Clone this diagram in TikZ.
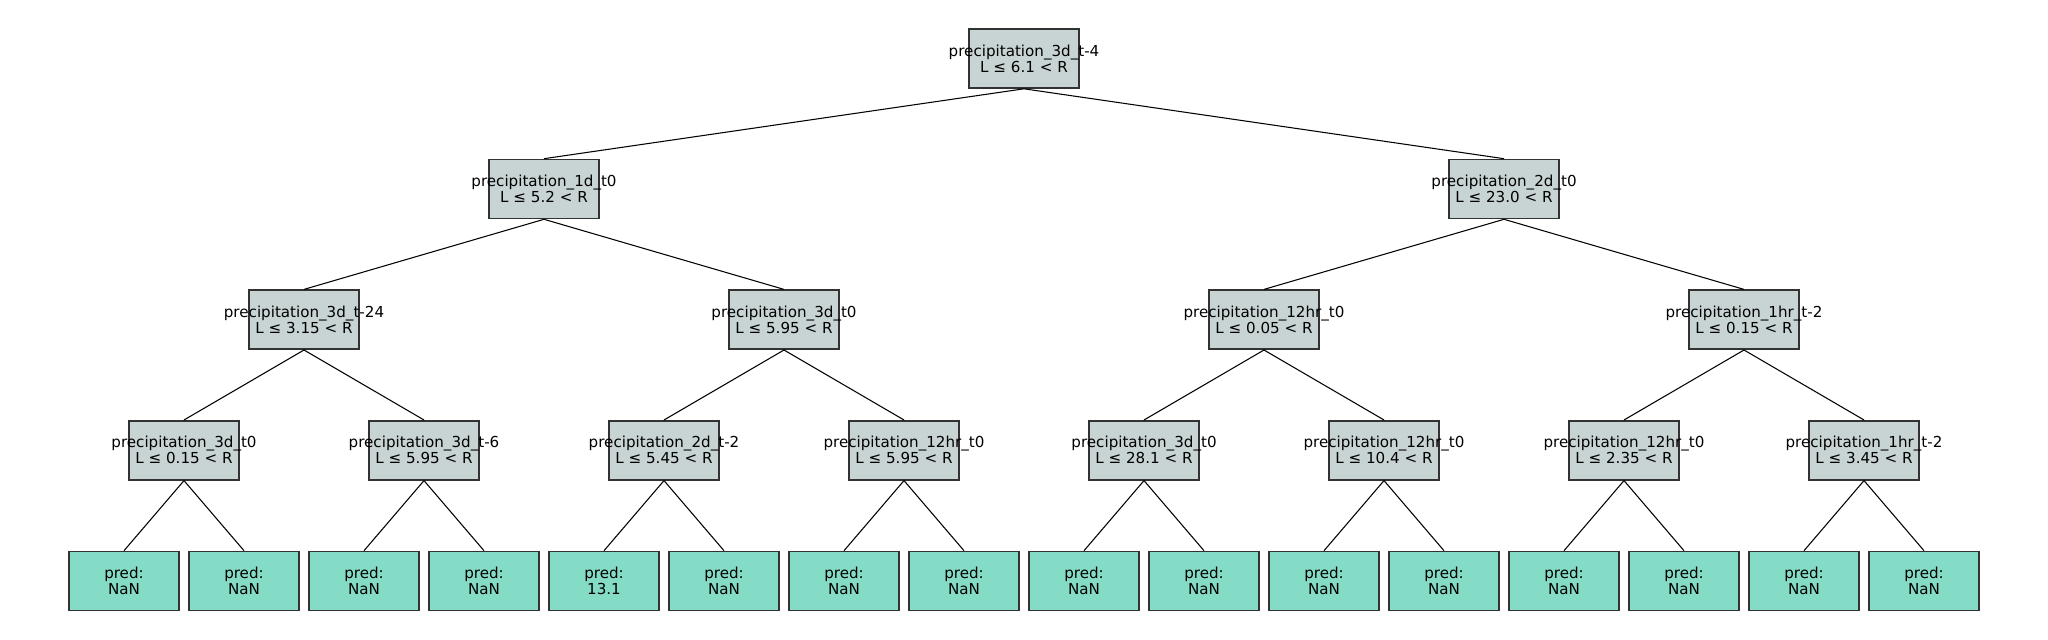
\documentclass[tikz,border=0pt]{standalone}
\usepackage{fontspec}
\setmainfont{DejaVu Sans}
\usepackage{tikz}
\usepackage{color}
\definecolor{splitfill}{RGB}{200,211,212}
\definecolor{leaffill}{RGB}{133,220,198}
\definecolor{boxedge}{RGB}{50,50,50}
\newcommand{\twolines}[2]{\makebox[0pt]{#1}\\\makebox[0pt]{#2}}
\tikzset{
	split/.style={draw=boxedge, fill=splitfill, line width=0.45pt, minimum width=1.1cm, minimum height=0.59cm, inner sep=0pt, align=center, font=\fontsize{4.3pt}{4.55pt}\selectfont},
	leaf/.style={split, fill=leaffill},
	branch/.style={line width=0.3pt, black}
}

\begin{document}
\begin{tikzpicture}[x=0.01cm, y=-0.01cm]
					\useasboundingbox (0, 0) rectangle (2048, 640);
					\node[split] (n0) at (1024, 58.5) {\twolines{precipitation\_3d\_t-4}{L ≤ 6.1 < R}};
					\node[split] (n1) at (544, 189) {\twolines{precipitation\_1d\_t0}{L ≤ 5.2 < R}};
					\node[split] (n2) at (1504, 189) {\twolines{precipitation\_2d\_t0}{L ≤ 23.0 < R}};
					\node[split] (n3) at (304, 319.7) {\twolines{precipitation\_3d\_t-24}{L ≤ 3.15 < R}};
					\node[split] (n4) at (784, 319.7) {\twolines{precipitation\_3d\_t0}{L ≤ 5.95 < R}};
					\node[split] (n5) at (1264, 319.7) {\twolines{precipitation\_12hr\_t0}{L ≤ 0.05 < R}};
					\node[split] (n6) at (1744, 319.7) {\twolines{precipitation\_1hr\_t-2}{L ≤ 0.15 < R}};
					\node[split] (n7) at (184, 450.3) {\twolines{precipitation\_3d\_t0}{L ≤ 0.15 < R}};
					\node[split] (n8) at (424, 450.3) {\twolines{precipitation\_3d\_t-6}{L ≤ 5.95 < R}};
					\node[split] (n9) at (664, 450.3) {\twolines{precipitation\_2d\_t-2}{L ≤ 5.45 < R}};
					\node[split] (n10) at (904, 450.3) {\twolines{precipitation\_12hr\_t0}{L ≤ 5.95 < R}};
					\node[split] (n11) at (1144, 450.3) {\twolines{precipitation\_3d\_t0}{L ≤ 28.1 < R}};
					\node[split] (n12) at (1384, 450.3) {\twolines{precipitation\_12hr\_t0}{L ≤ 10.4 < R}};
					\node[split] (n13) at (1624, 450.3) {\twolines{precipitation\_12hr\_t0}{L ≤ 2.35 < R}};
					\node[split] (n14) at (1864, 450.3) {\twolines{precipitation\_1hr\_t-2}{L ≤ 3.45 < R}};
					\node[leaf] (p1) at (124, 581) {\twolines{pred:}{NaN}};
					\node[leaf] (p2) at (244, 581) {\twolines{pred:}{NaN}};
					\node[leaf] (p3) at (364, 581) {\twolines{pred:}{NaN}};
					\node[leaf] (p4) at (484, 581) {\twolines{pred:}{NaN}};
					\node[leaf] (p5) at (604, 581) {\twolines{pred:}{13.1}};
					\node[leaf] (p6) at (724, 581) {\twolines{pred:}{NaN}};
					\node[leaf] (p7) at (844, 581) {\twolines{pred:}{NaN}};
					\node[leaf] (p8) at (964, 581) {\twolines{pred:}{NaN}};
					\node[leaf] (p9) at (1084, 581) {\twolines{pred:}{NaN}};
					\node[leaf] (p10) at (1204, 581) {\twolines{pred:}{NaN}};
					\node[leaf] (p11) at (1324, 581) {\twolines{pred:}{NaN}};
					\node[leaf] (p12) at (1444, 581) {\twolines{pred:}{NaN}};
					\node[leaf] (p13) at (1564, 581) {\twolines{pred:}{NaN}};
					\node[leaf] (p14) at (1684, 581) {\twolines{pred:}{NaN}};
					\node[leaf] (p15) at (1804, 581) {\twolines{pred:}{NaN}};
					\node[leaf] (p16) at (1924, 581) {\twolines{pred:}{NaN}};
					\draw[branch] (n0.south) -- (n1.north);
					\draw[branch] (n0.south) -- (n2.north);
					\draw[branch] (n1.south) -- (n3.north);
					\draw[branch] (n1.south) -- (n4.north);
					\draw[branch] (n2.south) -- (n5.north);
					\draw[branch] (n2.south) -- (n6.north);
					\draw[branch] (n3.south) -- (n7.north);
					\draw[branch] (n3.south) -- (n8.north);
					\draw[branch] (n4.south) -- (n9.north);
					\draw[branch] (n4.south) -- (n10.north);
					\draw[branch] (n5.south) -- (n11.north);
					\draw[branch] (n5.south) -- (n12.north);
					\draw[branch] (n6.south) -- (n13.north);
					\draw[branch] (n6.south) -- (n14.north);
					\draw[branch] (n7.south) -- (p1.north);
					\draw[branch] (n7.south) -- (p2.north);
					\draw[branch] (n8.south) -- (p3.north);
					\draw[branch] (n8.south) -- (p4.north);
					\draw[branch] (n9.south) -- (p5.north);
					\draw[branch] (n9.south) -- (p6.north);
					\draw[branch] (n10.south) -- (p7.north);
					\draw[branch] (n10.south) -- (p8.north);
					\draw[branch] (n11.south) -- (p9.north);
					\draw[branch] (n11.south) -- (p10.north);
					\draw[branch] (n12.south) -- (p11.north);
					\draw[branch] (n12.south) -- (p12.north);
					\draw[branch] (n13.south) -- (p13.north);
					\draw[branch] (n13.south) -- (p14.north);
					\draw[branch] (n14.south) -- (p15.north);
					\draw[branch] (n14.south) -- (p16.north);
					
				\end{tikzpicture}
\end{document}
